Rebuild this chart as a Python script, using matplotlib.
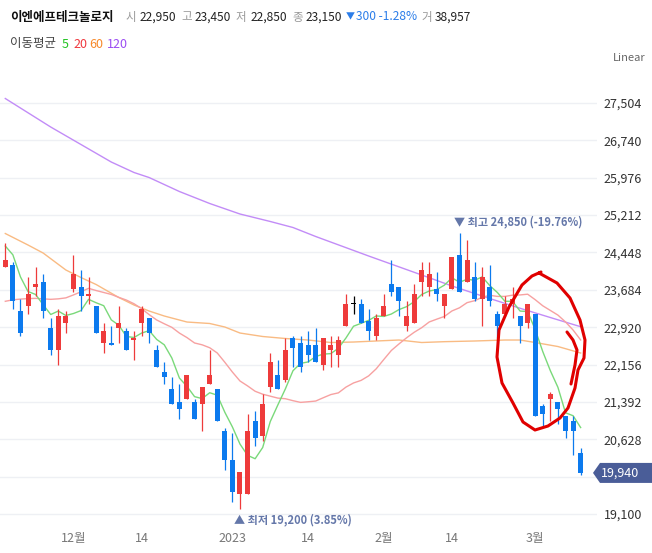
import matplotlib
matplotlib.use("Agg")
import matplotlib.pyplot as plt
from matplotlib.patches import Polygon
import numpy as np
import pandas as pd

plt.rcParams['font.family'] = ['Noto Sans CJK KR', 'DejaVu Sans']

# KRX trading days shown on the chart
dates = pd.bdate_range('2022-11-18', '2023-03-10', freq='C',
                       holidays=['2022-12-30', '2023-01-23', '2023-01-24', '2023-03-01'])

opens = [24150, 24200, 23250, 23350, 23750, 23850, 22900, 22450, 23000, 23700,
         23750, 23550, 23350, 22600, 22600, 22900, 22850, 22650, 23000, 23100,
         22450, 22000, 21650, 21400, 21450, 21400, 21350, 21750, 21650, 20800,
         20200, 19500, 19500, 21000, 20700, 21700, 21950, 21850, 22700, 22600,
         22550, 22550, 22150, 22450, 22350, 22950, 23400, 23400, 23050, 22750,
         23150, 23800, 23750, 22950, 23000, 23850, 23750, 23700, 23350, 23700,
         24400, 23850, 23950, 23500, 23750, 23200, 23200, 23400, 23150, 23000,
         23200, 21300, 21450, 21400, 21100, 21000, 20350]
highs = [24650, 24250, 23500, 23950, 24150, 24000, 23100, 23300, 23250, 24400,
         24100, 23950, 23350, 23000, 22950, 23350, 22900, 22850, 23350, 23100,
         22550, 22200, 21900, 21750, 21950, 21450, 21700, 22450, 21650, 20850,
         20750, 19950, 21150, 21200, 21550, 22400, 22250, 22700, 22750, 22750,
         22850, 22900, 22700, 22750, 22750, 23600, 23550, 23500, 23300, 23200,
         23600, 24300, 23750, 23450, 23800, 24250, 24250, 24050, 23600, 24350,
         24850, 24700, 24250, 24150, 24200, 23250, 23550, 23750, 23150, 23400,
         23200, 21350, 21600, 21400, 21100, 21100, 20450]
lows = [24150, 23300, 22750, 23200, 23550, 23100, 22350, 22150, 22800, 23650,
        23250, 23400, 22800, 22400, 22550, 22600, 22450, 22250, 22750, 22600,
        22100, 21750, 21350, 21050, 21450, 21050, 20800, 21750, 21000, 20000,
        19350, 19200, 19500, 20500, 20600, 21600, 21650, 21800, 22100, 22000,
        22200, 22200, 22050, 22100, 22100, 22950, 23200, 23000, 22650, 22650,
        23150, 23550, 23150, 22850, 23000, 23550, 23550, 23450, 23100, 23700,
        23650, 23850, 23450, 22950, 23350, 22700, 23150, 23100, 22600, 22900,
        21100, 20900, 21000, 20950, 20650, 20300, 19900]
closes = [24300, 23450, 22800, 23600, 23800, 23250, 22450, 23150, 23150, 24000,
          23550, 23600, 22800, 22850, 22550, 23000, 22450, 22700, 23300, 22800,
          22100, 21900, 21350, 21250, 21950, 21050, 21700, 21950, 21000, 20200,
          19550, 19950, 20800, 20650, 21350, 22200, 21650, 22450, 22500, 22100,
          22350, 22200, 22700, 22550, 22650, 23400, 23400, 23000, 22850, 23100,
          23350, 23650, 23450, 23150, 23600, 24100, 24000, 23600, 23600, 24350,
          23650, 24300, 23500, 23950, 23450, 22950, 23400, 23500, 22950, 23400,
          21100, 21150, 21550, 21250, 20800, 20800, 19940]
volume_text = '38,957'

# moving averages: first values come from days before the visible window
ma5_head = [24580, 24400, 23950, 23650]
ma20_head = [23450, 23480, 23495, 23505, 23510, 23500, 23490, 23500, 23520, 23580,
             23645, 23715, 23670, 23630, 23590, 23530, 23475, 23400, 23300]
ma60_idx = [0, 3, 5, 8, 10, 12, 15, 17, 19, 21, 24, 27, 29, 31, 34, 37, 40, 43,
            46, 49, 52, 55, 58, 62, 66, 68, 70, 73, 76]
ma60_val = [24836, 24601, 24437, 24090, 23936, 23793, 23527, 23374, 23251, 23149,
            23026, 22996, 22924, 22801, 22730, 22689, 22658, 22607, 22617, 22638,
            22658, 22607, 22624, 22638, 22658, 22658, 22607, 22525, 22392]
ma120_idx = [0, 6, 14, 17, 19, 23, 27, 31, 35, 38, 41, 48, 55, 59, 64, 68, 72, 76]
ma120_val = [27597, 27014, 26298, 26084, 25981, 25695, 25450, 25235, 25082, 24959,
             24775, 24376, 23988, 23763, 23507, 23307, 23118, 22930]

grid_vals = [19100, 19864, 20628, 21392, 22156, 22920, 23684, 24448, 25212, 25976, 26740, 27504]
tick_dates = ['2022-12-01', '2022-12-14', '2023-01-02', '2023-01-16', '2023-02-01', '2023-02-14', '2023-03-02']
tick_labels = ['12월', '14', '2023', '14', '2월', '14', '3월']

RED = '#ee3b3b'
BLUE = '#0c7aee'

fig = plt.figure(figsize=(6.52, 5.53), dpi=100)
ax = fig.add_axes([0, 28 / 553, 597 / 652, 457 / 553])

x = np.arange(len(dates))
o = np.array(opens)
c = np.array(closes)
h = np.array(highs)
l = np.array(lows)
colors = np.where(c > o, RED, np.where(c < o, BLUE, '#000000'))

s = pd.Series(closes, dtype=float)
ma5 = s.rolling(5).mean().to_numpy()
ma5[:4] = ma5_head
ma20 = s.rolling(20).mean().to_numpy()
ma20[:19] = ma20_head

ax.plot(ma120_idx, ma120_val, color='#c28cf7', lw=1.0, zorder=2)
ax.plot(ma60_idx, ma60_val, color='#f9bb83', lw=1.0, zorder=2)
ax.plot(x, ma20, color='#f7a1a1', lw=1.0, zorder=2)
ax.plot(x, ma5, color='#7ad97a', lw=1.0, zorder=2)

ax.vlines(x, l, h, colors=colors, lw=0.9, zorder=3)
body = np.maximum(np.abs(c - o), 25)
ax.bar(x, body, bottom=np.minimum(o, c) - (body - np.abs(c - o)) / 2, width=0.66,
       color=colors, lw=0, zorder=4)

ax.set_xlim(-0.70, 78.16)
ax.set_ylim(18875, 28221)
ax.set_yticks(grid_vals)
ax.set_yticklabels(['' if v == 19864 else f'{v:,}' for v in grid_vals])
ax.yaxis.tick_right()
ax.yaxis.grid(True, color='#eef0f4', lw=1)
ax.set_axisbelow(True)
tick_pos = [dates.get_loc(pd.Timestamp(d)) for d in tick_dates]
ax.set_xticks(tick_pos)
ax.set_xticklabels(tick_labels)
ax.tick_params(axis='y', length=0, pad=5, labelsize=9, labelcolor='#333333')
ax.tick_params(axis='x', length=0, pad=5, labelsize=9, labelcolor='#777777')
for sp in ax.spines.values():
    sp.set_visible(False)

# highest / lowest markers
last = closes[-1]
ih = int(np.argmax(h))
il = int(np.argmin(l))
ax.annotate(f'▼ 최고 {h[ih]:,} ({(last / h[ih] - 1) * 100:.2f}%)', xy=(ih, h[ih]),
            xytext=(-4, 3), textcoords='offset points', ha='left', va='bottom',
            fontsize=8, color='#6477a9', fontweight='bold', annotation_clip=False)
ax.annotate(f'▲ 최저 {l[il]:,} ({(last / l[il] - 1) * 100:.2f}%)', xy=(il, l[il]),
            xytext=(-4, -3), textcoords='offset points', ha='left', va='top',
            fontsize=8, color='#6477a9', fontweight='bold', annotation_clip=False)

# overlay in pixel coordinates (top-left origin)
ov = fig.add_axes([0, 0, 1, 1], zorder=5)
ov.set_xlim(0, 652)
ov.set_ylim(553, 0)
ov.axis('off')

# current price tag
yp = 553 - ax.transData.transform((0, last))[1]
ov.add_patch(Polygon([(593, yp), (600, yp - 10), (652, yp - 10), (652, yp + 10), (600, yp + 10)],
                     closed=True, color='#4a5d98', lw=0))
ov.text(601, yp, f'{last:,}', color='white', fontsize=9, va='center', ha='left')

# hand-drawn red marks
loop = [(539, 273), (557, 283), (570, 298), (580, 320), (585, 340), (584, 358), (578, 370),
        (575, 388), (568, 408), (560, 418), (548, 426), (535, 430), (523, 422), (513, 403),
        (502, 383), (497, 357), (499, 330), (509, 307), (522, 285), (532, 276), (541, 272)]
hook = [(567, 332), (573, 340), (577, 350), (575, 365), (571, 384)]
ov.plot([p[0] for p in loop], [p[1] for p in loop], color='#e00000', lw=2.2,
        solid_capstyle='round', solid_joinstyle='round')
ov.plot([p[0] for p in hook], [p[1] for p in hook], color='#e00000', lw=2.2,
        solid_capstyle='round', solid_joinstyle='round')

# header
k = 53
chg = closes[k] - closes[k - 1]
header = [('이엔에프테크놀로지', 10, '#111111', 'bold', 9),
          ('시', 126, '#999999', 'normal', 8.3), (f'{opens[k]:,}', 140, '#222222', 'normal', 8.6),
          ('고', 181, '#999999', 'normal', 8.3), (f'{highs[k]:,}', 195, '#222222', 'normal', 8.6),
          ('저', 236, '#999999', 'normal', 8.3), (f'{lows[k]:,}', 251, '#222222', 'normal', 8.6),
          ('종', 292, '#999999', 'normal', 8.3), (f'{closes[k]:,}', 306, '#222222', 'normal', 8.6),
          ('▼', 346, '#2b7de9', 'normal', 6.5),
          (f'{abs(chg):,} {chg / closes[k - 1] * 100:.2f}%', 356, '#2b7de9', 'normal', 8.6),
          ('거', 421, '#999999', 'normal', 8.3), (volume_text, 435, '#222222', 'normal', 8.6)]
for txt, px, col, wt, fs in header:
    ov.text(px, 17, txt, color=col, fontsize=fs, fontweight=wt, va='center', ha='left')

legend = [('이동평균', 10, '#444444'), ('5', 62, '#22c322'), ('20', 73, '#f0393f'),
          ('60', 89.5, '#f7892a'), ('120', 107, '#9b4df2')]
for txt, px, col in legend:
    ov.text(px, 44, txt, color=col, fontsize=9, va='center', ha='left')

ov.text(646, 58, 'Linear', color='#666666', fontsize=8, va='center', ha='right')

fig.savefig('out.png', dpi=100)
